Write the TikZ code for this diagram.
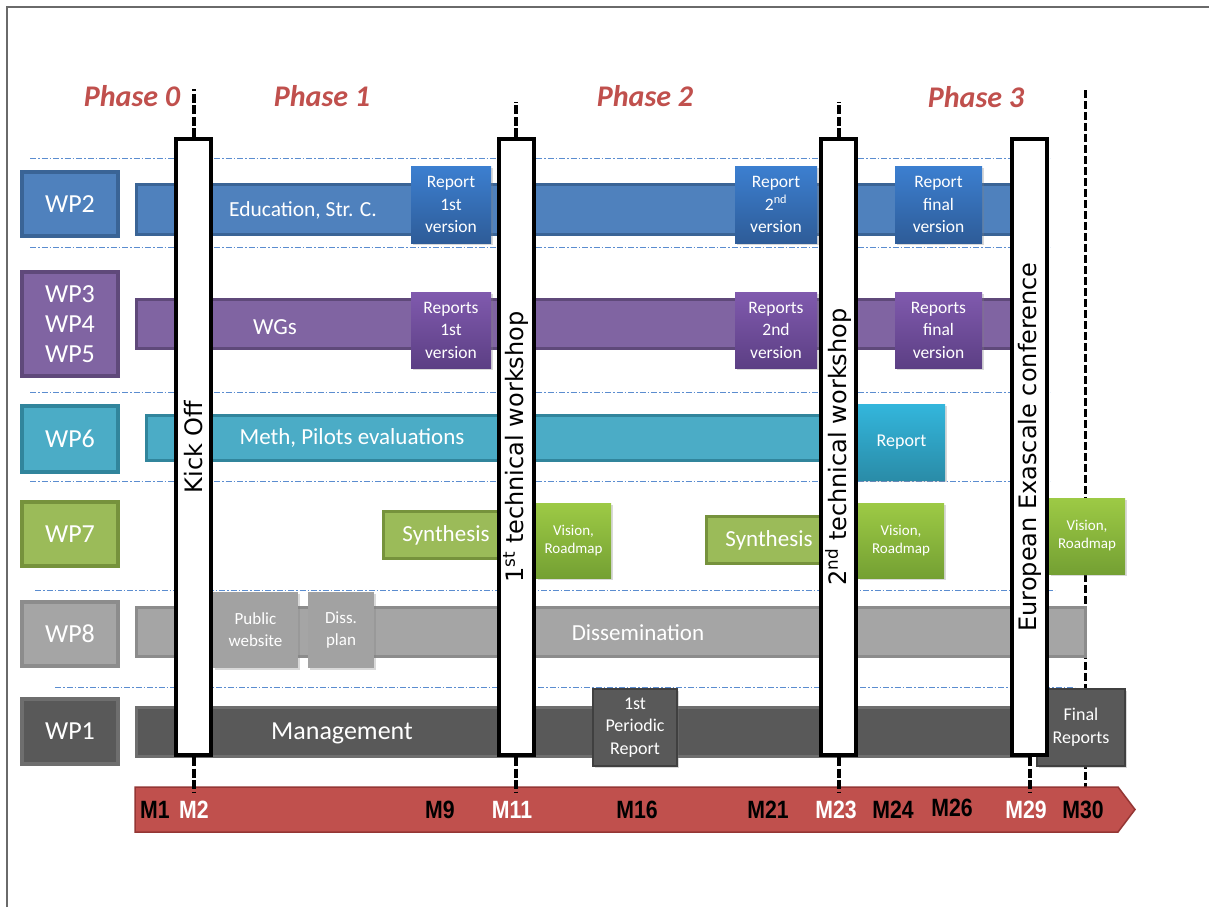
\documentclass[tikz,border=0pt]{standalone}
\usepackage{fontspec}
\setmainfont{Carlito}
\newfontfamily\hitofont{DejaVu Sans}
\newfontfamily\mesfont[FakeStretch=0.85]{Liberation Sans}
\usetikzlibrary{positioning, shadows}
\definecolor{azul}{HTML}{4F81BD}
\definecolor{azulborde}{HTML}{3A6496}
\definecolor{azulclaro}{HTML}{3C7FD0}
\definecolor{azulhondo}{HTML}{2E5C98}
\definecolor{morado}{HTML}{8064A2}
\definecolor{moradoborde}{HTML}{5F497A}
\definecolor{moradoclaro}{HTML}{805AAE}
\definecolor{moradohondo}{HTML}{5C3F84}
\definecolor{turquesa}{HTML}{4BACC6}
\definecolor{turquesaborde}{HTML}{31859C}
\definecolor{turquesaclaro}{HTML}{33B6DC}
\definecolor{turquesahondo}{HTML}{2A8CA8}
\definecolor{verde}{HTML}{9BBB59}
\definecolor{verdeborde}{HTML}{76923C}
\definecolor{verdeclaro}{HTML}{9DCA45}
\definecolor{verdehondo}{HTML}{74A033}
\definecolor{gris}{HTML}{A5A5A5}
\definecolor{grisborde}{HTML}{8C8C8C}
\definecolor{grisoscuro}{HTML}{595959}
\definecolor{grisoscuroborde}{HTML}{6E6E6E}
\definecolor{rojo}{HTML}{C0504D}
\definecolor{rojoborde}{HTML}{943634}
\definecolor{separador}{HTML}{5B8DD0}
\definecolor{marco}{HTML}{6A6A6A}

\begin{document}
\begin{tikzpicture}[x=1pt, y=-1pt,
			etiqueta/.style={draw, line width=4pt, text=white, inner sep=0pt, align=center,
			                 minimum width=96pt, font=\fontsize{26}{30}\selectfont},
			barra/.style={draw, line width=3pt, inner sep=0pt},
			rotulo/.style={text=white, inner sep=0pt},
			entrega/.style={text=white, inner sep=0pt, align=center, font=\fontsize{17.5}{22.5}\selectfont,
			                drop shadow={opacity=0.3, shadow xshift=2pt, shadow yshift=-2pt}},
			vision/.style={entrega, top color=verdeclaro, bottom color=verdehondo, font=\fontsize{15}{18}\selectfont},
			hito/.style={draw, fill=white, line width=4pt, rotate=90, minimum width=616pt, minimum height=35pt,
			             inner sep=0pt, font=\hitofont\fontsize{24}{28}\selectfont},
			fase/.style={text=rojo, inner sep=0pt, font=\fontsize{30}{34}\selectfont\bfseries\itshape},
			mes/.style={inner sep=0pt, font=\mesfont\bfseries\fontsize{25}{28}\selectfont},
			raya/.style={line width=4pt, dash pattern=on 9pt off 2.5pt},
			separa/.style={separador, line width=1pt, dash pattern=on 6pt off 2pt on 1.5pt off 2pt}]
	\useasboundingbox (0,0) rectangle (1209,907);
	\draw[marco, line width=1.2pt] (7,907) -- (7,7) -- (1209,7);
	% fases
	\node[fase] (fase0) at (132,96) {Phase 0};
	\node[fase] (fase1) at (322,96) {Phase 1};
	\node[fase] (fase2) at (645,96) {Phase 2};
	\node[fase] (fase3) at (976,97) {Phase 3};
	% separadores
	\draw[separa] (30,158) -- (1050,158);
	\draw[separa] (30,247) -- (1050,247);
	\draw[separa] (30,392) -- (1050,392);
	\draw[separa] (30,481) -- (1050,481);
	\draw[separa] (35,590) -- (1055,590);
	\draw[separa] (55,687) -- (1075,687);
	% final del proyecto
	\coordinate (finarriba) at (1085,90);
	\coordinate (finabajo) at (1085,792);
	\draw[line width=3pt, dash pattern=on 8pt off 3pt] (finarriba) -- (finabajo);
	% paquetes de trabajo
	\node[etiqueta, fill=azul, draw=azulborde, minimum height=64pt] (wp2) at (70,204) {WP2};
	\node[etiqueta, fill=morado, draw=moradoborde, minimum height=104pt] (wp345) at (70,324) {WP3\\WP4\\WP5};
	\node[etiqueta, fill=turquesa, draw=turquesaborde, minimum height=66pt] (wp6) at (70,439) {WP6};
	\node[etiqueta, fill=verde, draw=verdeborde, minimum height=64pt] (wp7) at (70,534) {WP7};
	\node[etiqueta, fill=gris, draw=grisborde, minimum height=64pt] (wp8) at (70,634) {WP8};
	\node[etiqueta, fill=grisoscuro, draw=grisoscuroborde, minimum height=65pt] (wp1) at (70,731.5) {WP1};
	% barras
	\node[barra, fill=azul, draw=azulborde, minimum width=892pt, minimum height=50pt] (barra2) at (582.5,209.5) {};
	\node[barra, fill=morado, draw=moradoborde, minimum width=892pt, minimum height=49pt] (barra345) at (582.5,324) {};
	\node[barra, fill=turquesa, draw=turquesaborde, minimum width=682pt, minimum height=45pt] (barra6) at (487.5,438) {};
	\node[barra, fill=gris, draw=grisborde, minimum width=949pt, minimum height=49pt] (barra8) at (611,632) {};
	\node[barra, fill=grisoscuro, draw=grisoscuroborde, minimum width=892pt, minimum height=49pt] (barra1) at (582.5,732) {};
	\node[rotulo, font=\fontsize{21.5}{24}\selectfont] (educacion) at (303,210) {Education, Str. C.};
	\node[rotulo, font=\fontsize{23}{26}\selectfont] (grupos) at (275,327) {WGs};
	\node[rotulo, font=\fontsize{23}{26}\selectfont] (pilotos) at (352,438) {Meth, Pilots evaluations};
	\node[rotulo, font=\fontsize{23}{26}\selectfont] (difusion) at (638,633) {Dissemination};
	\node[rotulo, font=\fontsize{26}{30}\selectfont] (gestion) at (342,733) {Management};
	% entregables
	\node[entrega, top color=azulclaro, bottom color=azulhondo, minimum width=80pt, minimum height=77pt] (inf1) at (451,204.5) {Report\\1st\\version};
	\node[entrega, top color=azulclaro, bottom color=azulhondo, minimum width=82pt, minimum height=77pt] (inf2) at (776,204.5) {Report\\2\textsuperscript{nd}\\version};
	\node[entrega, top color=azulclaro, bottom color=azulhondo, minimum width=87pt, minimum height=77pt] (inf3) at (938.5,204.5) {Report\\final\\version};
	\node[entrega, top color=moradoclaro, bottom color=moradohondo, minimum width=80pt, minimum height=76pt] (wg1) at (451,330) {Reports\\1st\\version};
	\node[entrega, top color=moradoclaro, bottom color=moradohondo, minimum width=82pt, minimum height=76pt] (wg2) at (776,330) {Reports\\2nd\\version};
	\node[entrega, top color=moradoclaro, bottom color=moradohondo, minimum width=87pt, minimum height=76pt] (wg3) at (938.5,330) {Reports\\final\\version};
	\node[entrega, top color=turquesaclaro, bottom color=turquesahondo, minimum width=87pt, minimum height=76pt, font=\fontsize{18}{22}\selectfont] (pil) at (901.5,442) {Report};
	\node[barra, fill=verde, draw=verdeborde, minimum width=125pt, minimum height=47pt, text=white, font=\fontsize{23}{26}\selectfont] (sint1) at (446,535) {Synthesis};
	\node[barra, fill=verde, draw=verdeborde, minimum width=125pt, minimum height=47pt, text=white, font=\fontsize{23}{26}\selectfont] (sint2) at (769,540) {Synthesis};
	\node[vision, minimum width=75pt, minimum height=75pt] (vis1) at (573.5,540.5) {Vision,\\Roadmap};
	\node[vision, minimum width=86pt, minimum height=75pt] (vis2) at (901,540.5) {Vision,\\Roadmap};
	\node[vision, minimum width=76pt, minimum height=76pt] (vis3) at (1087,536) {Vision,\\Roadmap};
	\node[entrega, fill=gris!98!black, minimum width=85pt, minimum height=76pt, font=\fontsize{17}{22}\selectfont] (web) at (255.5,630) {Public\\website};
	\node[entrega, fill=gris!98!black, minimum width=66pt, minimum height=76pt, font=\fontsize{17}{22}\selectfont] (plan) at (341,630) {Diss.\\plan};
	\node[entrega, fill=grisoscuro, draw=black!75, line width=2pt, minimum width=84pt, minimum height=77pt, font=\fontsize{18}{22.5}\selectfont] (periodico) at (635,727.5) {1st\\Periodic\\Report};
	\node[entrega, fill=grisoscuro, draw=black!75, line width=2pt, minimum width=88pt, minimum height=77pt, font=\fontsize{18}{23}\selectfont] (finales) at (1081,727.5) {Final\\Reports};
	% hitos
	\node[hito] (kickoff) at (193.5,447) {Kick Off};
	\node[hito] (taller1) at (516,447) {1\textsuperscript{st} technical workshop};
	\node[hito] (taller2) at (838.5,447) {2\textsuperscript{nd} technical workshop};
	\node[hito] (congreso) at (1029.5,447) {European Exascale conference};
	% eje de meses
	\fill[rojo, draw=rojoborde, line width=1.5pt] (135,787) -- (1118,787) -- (1135,809.5) -- (1118,832) -- (135,832) -- cycle;
	\coordinate (arriba0) at (193.5,89);
	\coordinate (arriba1) at (516,102);
	\coordinate (arriba2) at (838.5,102);
	\coordinate (abajo0) at (193.5,792);
	\coordinate (abajo1) at (516,792);
	\coordinate (abajo2) at (838.5,792);
	\coordinate (abajo3) at (1029.5,792);
	\draw[raya] (kickoff.east) -- (arriba0);
	\draw[raya] (taller1.east) -- (arriba1);
	\draw[raya] (taller2.east) -- (arriba2);
	\draw[raya] (kickoff.west) -- (abajo0);
	\draw[raya] (taller1.west) -- (abajo1);
	\draw[raya] (taller2.west) -- (abajo2);
	\draw[raya] (congreso.west) -- (abajo3);
	\node[mes] (m1) at (155,810) {M1};
	\node[mes, text=white] (m2) at (194,810) {M2};
	\node[mes] (m9) at (440,810) {M9};
	\node[mes, text=white] (m11) at (512,810) {M11};
	\node[mes] (m16) at (637,810) {M16};
	\node[mes] (m21) at (768,810) {M21};
	\node[mes, text=white] (m23) at (836,810) {M23};
	\node[mes] (m24) at (893,810) {M24};
	\node[mes] (m26) at (952,808) {M26};
	\node[mes, text=white] (m29) at (1026,810) {M29};
	\node[mes] (m30) at (1083,810) {M30};
\end{tikzpicture}
\end{document}
